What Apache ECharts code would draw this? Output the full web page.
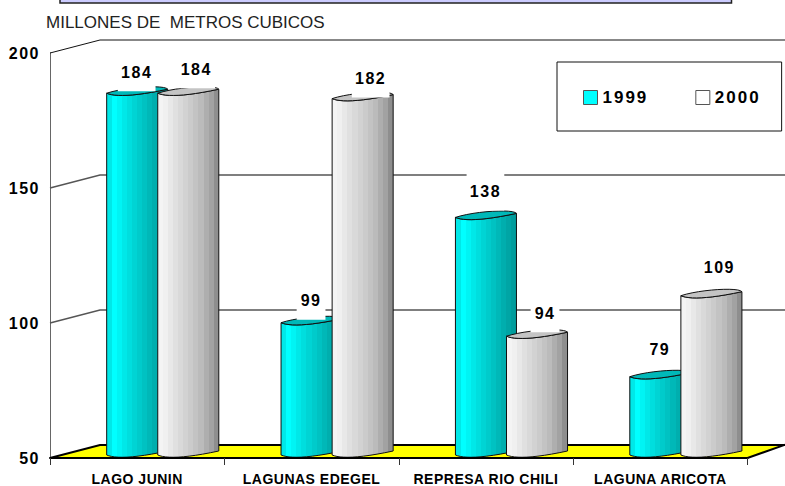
<!DOCTYPE html>
<html>
<head>
<meta charset="utf-8">
<script src="https://cdn.jsdelivr.net/npm/echarts@6/dist/echarts.min.js"></script>
<style>
  html, body { margin: 0; padding: 0; background: #fff; }
  #chart { width: 785px; height: 486px; }
  /* the original bold labels are widely tracked */
  #chart text[style*="bold"] { letter-spacing: 1.5px; }
  #chart text[style*="bold"][style*="17px"] { letter-spacing: 2px; }
  #chart text[style*="bold"][style*="14px"] { letter-spacing: 0.5px; }
</style>
</head>
<body>
<div id="chart"></div>
<script>
const categories = ["LAGO JUNIN", "LAGUNAS EDEGEL", "REPRESA RIO CHILI", "LAGUNA ARICOTA"];
const values1999 = [184, 99, 138, 79];
const values2000 = [184, 182, 94, 109];
const yTicks = [50, 100, 150, 200];

// label heights above the bar, moved by hand in the original
const lift1999 = [24, 25, 29, 30];
const lift2000 = [27, 23, 26, 31];

const FONT = '"Liberation Sans", Arial, sans-serif';
const DEPTH_X = 50;
const DEPTH_Y = 13;

const cyanBands = ["#00e8e8", "#00ffff", "#00f4f4", "#00e8e8", "#00dede", "#00d4d4", "#00cbcb", "#00c2c2", "#00b8b8", "#00aeae", "#00a5a5", "#009c9c"];
const grayBands = ["#f4f4f4", "#f0f0f0", "#e8e8e8", "#e0e0e0", "#d9d9d9", "#d2d2d2", "#cbcbcb", "#c3c3c3", "#bbbbbb", "#aeaeae", "#a2a2a2", "#8e8e8e"];

function bandGradient(colors) {
  let stops = [];
  colors.forEach((c, i) => {
    stops.push({ offset: i / colors.length, color: c });
    stops.push({ offset: (i + 1) / colors.length, color: c });
  });
  return new echarts.graphic.LinearGradient(0, 0, 1, 0, stops);
}

function bezier(p0, p1, p2, p3) {
  let pts = [];
  for (let i = 0; i <= 12; i++) {
    let t = i / 12, u = 1 - t;
    pts.push([
      u * u * u * p0[0] + 3 * u * u * t * p1[0] + 3 * u * t * t * p2[0] + t * t * t * p3[0],
      u * u * u * p0[1] + 3 * u * u * t * p1[1] + 3 * u * t * t * p2[1] + t * t * t * p3[1],
    ]);
  }
  return pts;
}

// lower edge of the slanted ellipse, left to right
function frontArc(x0, x1, y) {
  return bezier([x0, y - 3], [x0 + 8, y + 0.5], [x0 + 26, y + 0.5], [x1, y - 7]);
}
function backArc(x0, x1, y) {
  return bezier([x1, y - 7], [x1 - 3, y - 11.5], [x0 + 20, y - 9.5], [x0, y - 3]);
}

function cylinder(values, lifts, bands, topColor, step, labelShift) {
  const fill = bandGradient(bands);
  return function (params, api) {
    const i = api.value(0);
    const band = api.size([1, 0])[0];
    const center = api.coord([i, api.value(1)]);
    const yTop = center[1];
    const yBase = api.coord([i, yTicks[0]])[1];
    const w = band * 0.35;
    const x0 = center[0] - w / 2 + band * step;
    const x1 = x0 + w;
    const body = frontArc(x0, x1, yTop).concat(frontArc(x0, x1, yBase).reverse());
    const top = frontArc(x0, x1, yTop).concat(backArc(x0, x1, yTop));
    return {
      type: "group",
      children: [
        { type: "polygon", shape: { points: body }, style: { fill: fill, stroke: "#111", lineWidth: 1 } },
        { type: "polygon", shape: { points: top }, style: { fill: topColor, stroke: "#111", lineWidth: 1 } },
        {
          type: "text",
          style: {
            text: String(api.value(1)),
            x: x0 + w / 2 + labelShift,
            y: yTop - lifts[i],
            align: "center",
            verticalAlign: "middle",
            font: "bold 16px " + FONT,
            fill: "#000",
            backgroundColor: "#fff",
            padding: [11, 5.5, 11, 5.5],
          },
        },
      ],
    };
  };
}

function wall(params, api) {
  const y = api.coord([0, api.value(1)])[1];
  const x = params.coordSys.x;
  const right = api.getWidth();
  const xEnd = x + params.coordSys.width;
  const isFloor = api.value(1) === yTicks[0];
  const isTop = api.value(1) === yTicks[yTicks.length - 1];
  if (isFloor) {
    return {
      type: "polygon",
      shape: { points: [[x, y], [x + DEPTH_X, y - DEPTH_Y], [right + 2, y - DEPTH_Y], [right + 2, y - DEPTH_Y - 1], [xEnd, y]] },
      style: { fill: "#ffff00", stroke: "#000", lineWidth: 2 },
    };
  }
  return {
    type: "polyline",
    shape: { points: [[x, y], [x + DEPTH_X, y - DEPTH_Y], [right + 2, y - DEPTH_Y]] },
    style: { fill: "none", stroke: isTop ? "#111" : "#555", lineWidth: isTop ? 1 : 1.5 },
  };
}

const chart = echarts.init(document.getElementById("chart"), null, { renderer: "svg" });

chart.setOption({
  animation: false,
  backgroundColor: "#fff",
  title: {
    text: "MILLONES DE  METROS CUBICOS",
    left: 46,
    top: 14,
    padding: 0,
    textStyle: { fontFamily: FONT, fontSize: 17, fontWeight: "normal", color: "#222" },
  },
  legend: {
    left: 557,
    top: 62,
    padding: [27, 29, 25, 26],
    orient: "horizontal",
    selectedMode: false,
    backgroundColor: "#fff",
    borderColor: "#111",
    borderWidth: 1,
    itemWidth: 14,
    itemHeight: 14,
    itemGap: 55,
    icon: "rect",
    data: [
      { name: "1999", itemStyle: { color: "#00ffff", borderColor: "#555", borderWidth: 1 } },
      { name: "2000", itemStyle: { color: "#ffffff", borderColor: "#555", borderWidth: 1 } },
    ],
    textStyle: { fontFamily: FONT, fontSize: 17, fontWeight: "bold", color: "#000" },
  },
  grid: { left: 50, top: 53, width: 697.5, height: 405 },
  xAxis: {
    type: "category",
    data: categories,
    z: 6,
    axisLine: { show: true, lineStyle: { color: "#000", width: 2 } },
    axisTick: { show: true, inside: false, alignWithLabel: false, length: 7, lineStyle: { color: "#333", width: 1 } },
    axisLabel: { margin: 14, fontFamily: FONT, fontSize: 14, fontWeight: "bold", color: "#000", interval: 0 },
  },
  yAxis: {
    type: "value",
    min: 50,
    max: 200,
    interval: 50,
    axisLine: { show: true, lineStyle: { color: "#666", width: 1 } },
    axisTick: { show: false },
    splitLine: { show: false },
    axisLabel: { margin: 10, fontFamily: FONT, fontSize: 16, fontWeight: "bold", color: "#000" },
  },
  graphic: [
    {
      type: "rect",
      shape: { x: 60, y: -6, width: 671.5, height: 9 },
      style: { fill: "#ccccff", stroke: "#222", lineWidth: 1.5 },
    },
  ],
  series: [
    {
      name: "pared",
      type: "custom",
      clip: false,
      z: 1,
      encode: { x: 0, y: 1 },
      data: yTicks.map((t) => [0, t]),
      renderItem: wall,
    },
    {
      name: "1999",
      type: "custom",
      clip: false,
      z: 3,
      encode: { x: 0, y: 1 },
      data: values1999.map((v, i) => [i, v]),
      renderItem: cylinder(values1999, lift1999, cyanBands, "#00b8b8", 0, -0.5),
    },
    {
      name: "2000",
      type: "custom",
      clip: false,
      z: 4,
      encode: { x: 0, y: 1 },
      data: values2000.map((v, i) => [i, v]),
      renderItem: cylinder(values2000, lift2000, grayBands, "#c4c4c4", 0.293, 8),
    },
  ],
});
</script>
</body>
</html>
